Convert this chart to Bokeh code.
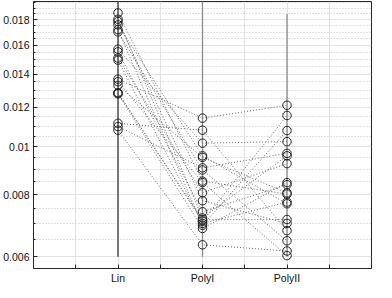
from bokeh.plotting import figure
from bokeh.models import Range1d, FixedTicker, CustomJSTickFormatter, ColumnDataSource
from bokeh.embed import file_html
from bokeh.resources import INLINE

categories = ["Lin", "PolyI", "PolyII"]
cat_pos = [1, 2, 3]

lin = [0.01859, 0.01805, 0.01786, 0.01759, 0.01720, 0.01702, 0.01571, 0.01552,
       0.01508, 0.01493, 0.01367, 0.01351, 0.01328, 0.01284, 0.01281, 0.01277,
       0.01114, 0.01097, 0.01079]
poly1 = [0.00852, 0.00718, 0.00778, 0.00958, 0.00694, 0.00897, 0.01016, 0.00739,
         0.00807, 0.00700, 0.01141, 0.00846, 0.00951, 0.00707, 0.00712, 0.00684,
         0.01079, 0.00906, 0.00634]
poly2 = [0.00802, 0.00958, 0.00700, 0.00767, 0.01077, 0.00646, 0.01023, 0.00838,
         0.00924, 0.00773, 0.01211, 0.00603, 0.00807, 0.01155, 0.00713, 0.00846,
         0.00677, 0.00969, 0.00616]

whisker_low = [0.0060, 0.0060, 0.0060]
whisker_high = [0.0196, 0.0196, 0.0185]

y_major = [0.006, 0.008, 0.010, 0.012, 0.014, 0.016, 0.018]
y_minor = [0.0060, 0.0065, 0.0070, 0.0075, 0.0080, 0.0085, 0.0090, 0.0095,
           0.0100, 0.0105, 0.0110, 0.0115, 0.0120, 0.0125, 0.0130, 0.0135,
           0.0140, 0.0145, 0.0150, 0.0155, 0.0160, 0.0165, 0.0170, 0.0175,
           0.0180, 0.0185, 0.0190, 0.0195]
x_ticks = [0.5, 1, 1.5, 2, 2.5, 3, 3.5]
x_labels = {0.5: "", 1: "Lin", 1.5: "", 2: "PolyI", 2.5: "", 3: "PolyII", 3.5: ""}

FONT = "Liberation Sans"
DARK = "#262626"

p = figure(width=376, height=286, y_axis_type="log", title=None,
           x_range=Range1d(0, 4), y_range=Range1d(0.00568, 0.0196),
           output_backend="svg", toolbar_location=None,
           min_border_left=0, min_border_right=5, min_border_top=1,
           min_border_bottom=0)
p.outline_line_color = DARK
p.background_fill_color = "white"
p.border_fill_color = "white"

xa = p.xaxis[0]
xa.axis_label = None
xa.ticker = FixedTicker(ticks=x_ticks)
xa.major_label_overrides = x_labels
ya = p.yaxis[0]
ya.axis_label = None
ya.ticker = FixedTicker(ticks=y_major, minor_ticks=y_minor)
ya.formatter = CustomJSTickFormatter(code="return tick.toFixed(3).replace(/0+$/, '');")

for ax in (xa, ya):
    ax.axis_line_color = DARK
    ax.major_tick_line_color = DARK
    ax.minor_tick_line_color = DARK
    ax.major_tick_in = 4
    ax.major_tick_out = 0
    ax.minor_tick_in = 2
    ax.minor_tick_out = 0
    ax.major_label_text_font = FONT
    ax.major_label_text_font_size = "10.5px"
    ax.major_label_text_color = "#111111"
xa.major_label_standoff = 3
ya.major_label_standoff = 4

p.xgrid.ticker = FixedTicker(ticks=x_ticks)
p.xgrid.grid_line_color = "#e3e3e3"
p.ygrid.ticker = FixedTicker(ticks=y_major, minor_ticks=y_minor)
p.ygrid.grid_line_color = "#e3e3e3"
p.ygrid.minor_grid_line_color = "#c4c4c4"
p.ygrid.minor_grid_line_dash = "1 2"

p.segment(x0=cat_pos, y0=whisker_low, x1=cat_pos, y1=whisker_high,
          line_color=["#333333", "#8a8a8a", "#8a8a8a"], line_width=1.3)

xs = [cat_pos for _ in lin]
ys = [[a, b, c] for a, b, c in zip(lin, poly1, poly2)]
p.multi_line(xs=xs, ys=ys, line_color="#666666", line_width=1, line_dash="1 2")

for xpos, vals in zip(cat_pos, (lin, poly1, poly2)):
    src = ColumnDataSource(dict(x=[xpos] * len(vals), y=vals))
    p.scatter("x", "y", source=src, marker="circle", size=8.5,
              fill_color=None, line_color="#222222", line_width=1)

open("out.html", "w").write(file_html(p, INLINE))
